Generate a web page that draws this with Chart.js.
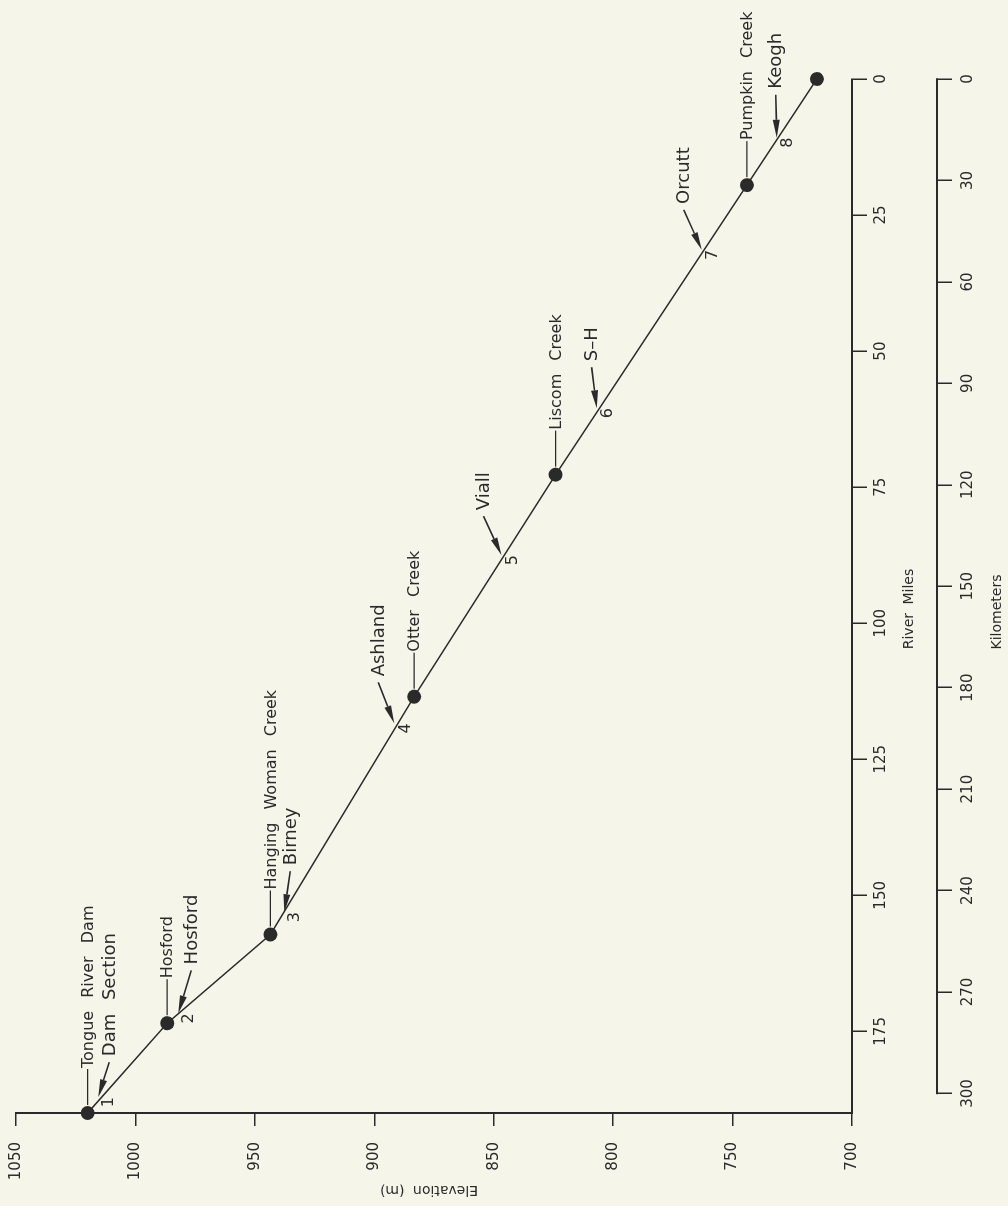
<!DOCTYPE html>
<html>
<head>
<meta charset="utf-8">
<script src="https://cdn.jsdelivr.net/npm/chart.js@4.4.1/dist/chart.umd.min.js"></script>
<style>
  html, body { margin: 0; padding: 0; background: #f5f6e9; overflow: hidden; }
  body { width: 1008px; height: 1206px; position: relative; }
  /* the figure is printed sideways: draw it upright, then turn it a quarter left */
  #wrap { position: absolute; left: 0; top: 0; width: 1206px; height: 1008px;
          transform-origin: 0 0; transform: translateY(1206px) rotate(-90deg); }
</style>
</head>
<body>
<div id="wrap"><canvas id="profile" width="1206" height="1008"></canvas></div>
<script>
// tributary mouths on the profile (river mile, elevation m)
const riverMiles = [190, 173.5, 157.2, 113.5, 72.7, 19.5, 0];
const elevations = [1020, 986.7, 943.5, 883.3, 824.1, 744, 714.7];
const tributaries = ['Tongue River Dam', 'Hosford', 'Hanging Woman Creek', 'Otter Creek', 'Liscom Creek', 'Pumpkin Creek'];

// sampling sections 1-8
const sectionNames = ['Dam Section', 'Hosford', 'Birney', 'Ashland', 'Viall', 'S–H', 'Orcutt', 'Keogh'];
const sectionMiles = [187.1, 171.7, 153.1, 118.4, 87.5, 60.5, 31.4, 10.8];
const sectionElev = [1015.6, 982.1, 937.7, 891.6, 846.7, 806.9, 762.9, 731.5];

// tick labels
const elevTicks = [700, 750, 800, 850, 900, 950, 1000, 1050];
const mileTicks = [0, 25, 50, 75, 100, 125, 150, 175];
const kmTicks = [0, 30, 60, 90, 120, 150, 180, 210, 240, 270, 300];
const KM_PER_MILE = 1.609344;

// arrow tail offsets from the tip, in px (layout only)
const arrowOffsets = [[35, 11], [43, 13], [41, 6], [41, -16], [39, -18], [41, -5], [40, -18], [43, -1]];

const INK = '#2a2a2a';
const FONT = '"DejaVu Sans", sans-serif';
Chart.defaults.font.family = FONT;

function drawArrow(ctx, x0, y0, x1, y1) {
    const ang = Math.atan2(y1 - y0, x1 - x0);
    const head = 18, half = 3.5;
    const bx = x1 - head * Math.cos(ang), by = y1 - head * Math.sin(ang);
    ctx.beginPath();
    ctx.moveTo(x0, y0);
    ctx.lineTo(bx, by);
    ctx.stroke();
    ctx.beginPath();
    ctx.moveTo(x1, y1);
    ctx.lineTo(bx + half * Math.sin(ang), by - half * Math.cos(ang));
    ctx.lineTo(bx - half * Math.sin(ang), by + half * Math.cos(ang));
    ctx.closePath();
    ctx.fill();
}

const annotate = {
    id: 'annotate',
    afterDatasetsDraw(chart) {
        const {ctx, chartArea: a} = chart;
        const {x, y, km} = chart.scales;
        ctx.save();
        ctx.fillStyle = INK;
        ctx.strokeStyle = INK;

        // kilometre scale line only runs 0-300 km
        ctx.lineWidth = 2;
        ctx.beginPath();
        ctx.moveTo(km.getPixelForValue(kmTicks[0]) + 0.75, km.top);
        ctx.lineTo(km.getPixelForValue(kmTicks[kmTicks.length - 1]) - 0.75, km.top);
        ctx.stroke();

        ctx.textBaseline = 'middle';
        ctx.textAlign = 'left';
        ctx.wordSpacing = '8px';

        // tributary leaders
        ctx.font = '16px ' + FONT;
        ctx.lineWidth = 1.2;
        tributaries.forEach((name, i) => {
            const px = x.getPixelForValue(riverMiles[i]);
            const py = y.getPixelForValue(elevations[i]);
            ctx.beginPath();
            ctx.moveTo(px + 8, py);
            ctx.lineTo(px + 44, py);
            ctx.stroke();
            ctx.fillText(name, px + 45, py + 1);
        });

        // section arrows and numbers
        sectionNames.forEach((name, i) => {
            const tx = x.getPixelForValue(sectionMiles[i]);
            const ty = y.getPixelForValue(sectionElev[i]);
            const [dx, dy] = arrowOffsets[i];
            ctx.lineWidth = 1.6;
            drawArrow(ctx, tx + dx, ty + dy, tx, ty);
            ctx.font = '18px ' + FONT;
            ctx.textAlign = 'left';
            ctx.fillText(name, tx + dx + 6, ty + dy + 1);
            ctx.font = '16px ' + FONT;
            ctx.textAlign = 'center';
            ctx.fillText(String(i + 1), tx - 5, ty + 11);
        });

        // axis titles
        ctx.wordSpacing = '4px';
        ctx.font = '14px ' + FONT;
        ctx.textAlign = 'center';
        const mid = (a.left + a.right) / 2 - 13;
        ctx.fillText('River Miles', mid, x.top + 57);
        ctx.fillText('Kilometers', mid - 3, km.top + 60);
        ctx.translate(16, (a.top + a.bottom) / 2 - 5);
        ctx.rotate(-Math.PI / 2);
        ctx.fillText('Elevation (m)', 0, 0);
        ctx.restore();
    }
};

const axisGrid = (len) => ({
    drawOnChartArea: false,
    drawTicks: true,
    tickLength: len,
    color: INK,
    lineWidth: 1.5
});

new Chart(document.getElementById('profile'), {
    type: 'line',
    data: {
        datasets: [{
            data: riverMiles.map((m, i) => ({x: m, y: elevations[i]})),
            borderColor: INK,
            borderWidth: 1.5,
            pointRadius: 7,
            pointBackgroundColor: INK,
            pointBorderWidth: 0,
            tension: 0,
            clip: false
        }]
    },
    options: {
        responsive: false,
        animation: false,
        layout: {padding: {left: 0, right: 79, top: 16, bottom: 0}},
        plugins: {legend: {display: false}, tooltip: {enabled: false}},
        scales: {
            x: {
                type: 'linear',
                position: 'bottom',
                reverse: true,
                min: 0,
                max: riverMiles[0],
                weight: 0,
                afterFit: (s) => { s.height = 85; s.paddingLeft = 0; s.paddingRight = 0; },
                afterBuildTicks: (s) => { s.ticks = mileTicks.map(v => ({value: v})); },
                border: {display: true, color: INK, width: 2},
                grid: axisGrid(15),
                ticks: {color: INK, padding: 5, font: {size: 15}, maxRotation: 0, autoSkip: false, callback: v => String(v)}
            },
            km: {
                type: 'linear',
                position: 'bottom',
                reverse: true,
                min: 0,
                max: riverMiles[0] * KM_PER_MILE,
                weight: 1,
                afterFit: (s) => { s.height = 71; s.paddingLeft = 0; s.paddingRight = 0; },
                afterBuildTicks: (s) => { s.ticks = kmTicks.map(v => ({value: v})); },
                border: {display: false},
                grid: axisGrid(15),
                ticks: {color: INK, padding: 7, font: {size: 15}, maxRotation: 0, autoSkip: false, callback: v => String(v)}
            },
            y: {
                type: 'linear',
                position: 'left',
                min: 700,
                max: 1050,
                afterFit: (s) => { s.width = 93; s.paddingTop = 0; s.paddingBottom = 0; },
                afterBuildTicks: (s) => { s.ticks = elevTicks.map(v => ({value: v})); },
                border: {display: true, color: INK, width: 2},
                grid: axisGrid(13),
                ticks: {color: INK, padding: 16, font: {size: 15}, autoSkip: false, callback: v => String(v)}
            }
        }
    },
    plugins: [annotate]
});
</script>
</body>
</html>
